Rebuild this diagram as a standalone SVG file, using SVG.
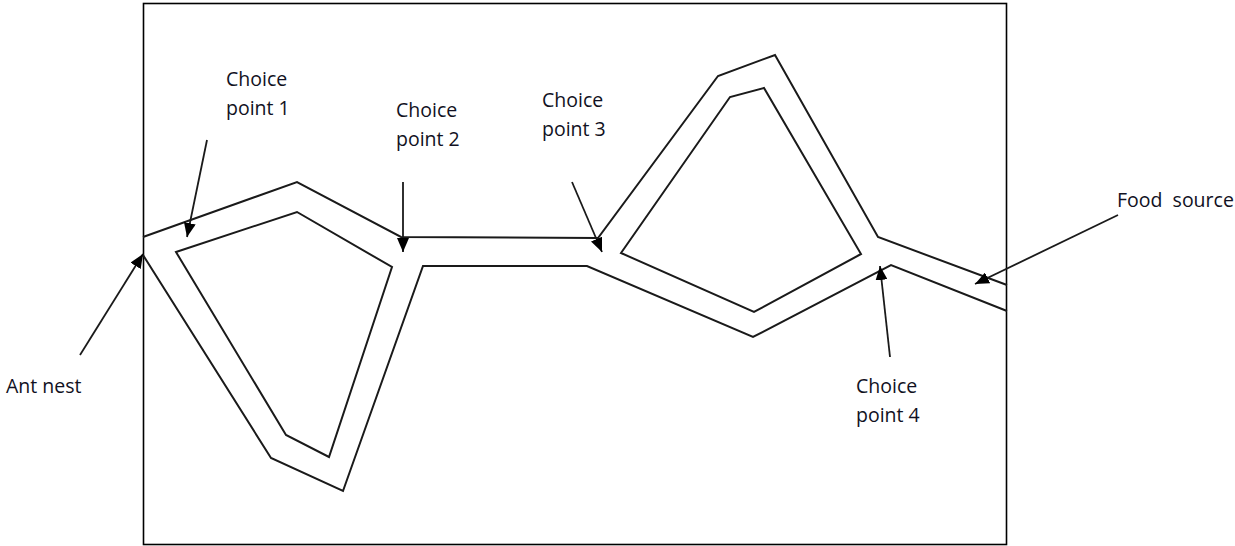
<svg xmlns="http://www.w3.org/2000/svg" width="1235" height="546" viewBox="0 0 1235 546">
<style>
.frame{fill:none;stroke:#000;stroke-width:1.6}
.trail{fill:none;stroke:#1a1a1a;stroke-width:2;stroke-linejoin:miter}
.ptr{fill:none;stroke:#1a1a1a;stroke-width:1.8}
.lbl{font-family:"Open Sans","Liberation Sans",sans-serif;font-size:19.5px;fill:#111122}
</style>
<defs>
<marker id="ah" viewBox="0 0 14 12" refX="14" refY="6" markerWidth="14" markerHeight="12" markerUnits="userSpaceOnUse" orient="auto">
<path d="M0,0 L14,6 L0,12 Z" fill="#000"/>
</marker>
</defs>
<rect class="frame" x="143.5" y="3.5" width="863" height="541"/>
<g id="trails">
<polyline class="trail" points="143,237 297,182 401,237 598,238 718,76 775,55 878,237 1007,285"/>
<polyline class="trail" points="143,255 271,458 343,491 423,266 587,266 753,337 891,265 1007,311"/>
<polygon class="trail" points="176,252 297,212 392,267 329,457 286,435"/>
<polygon class="trail" points="621,253 730,97 764,88 861,254 754,312"/>
</g>
<g id="connectors">
<line class="ptr" x1="207" y1="140" x2="187" y2="237" marker-end="url(#ah)"/>
<line class="ptr" x1="403" y1="182" x2="403" y2="252" marker-end="url(#ah)"/>
<line class="ptr" x1="572" y1="182" x2="602" y2="252" marker-end="url(#ah)"/>
<line class="ptr" x1="80" y1="355" x2="143" y2="254" marker-end="url(#ah)"/>
<line class="ptr" x1="890" y1="357" x2="880" y2="266" marker-end="url(#ah)"/>
<line class="ptr" x1="1118" y1="215" x2="975" y2="284" marker-end="url(#ah)"/>
</g>
<g id="cp1"><text class="lbl" x="226" y="86">Choice</text><text class="lbl" x="226" y="115">point 1</text></g>
<g id="cp2"><text class="lbl" x="396" y="117">Choice</text><text class="lbl" x="396" y="146">point 2</text></g>
<g id="cp3"><text class="lbl" x="542" y="107">Choice</text><text class="lbl" x="542" y="136">point 3</text></g>
<g id="cp4"><text class="lbl" x="856" y="393">Choice</text><text class="lbl" x="856" y="422">point 4</text></g>
<g id="food"><text class="lbl" x="1117" y="207" xml:space="preserve">Food  source</text></g>
<g id="nest"><text class="lbl" x="6" y="393">Ant nest</text></g>
</svg>
